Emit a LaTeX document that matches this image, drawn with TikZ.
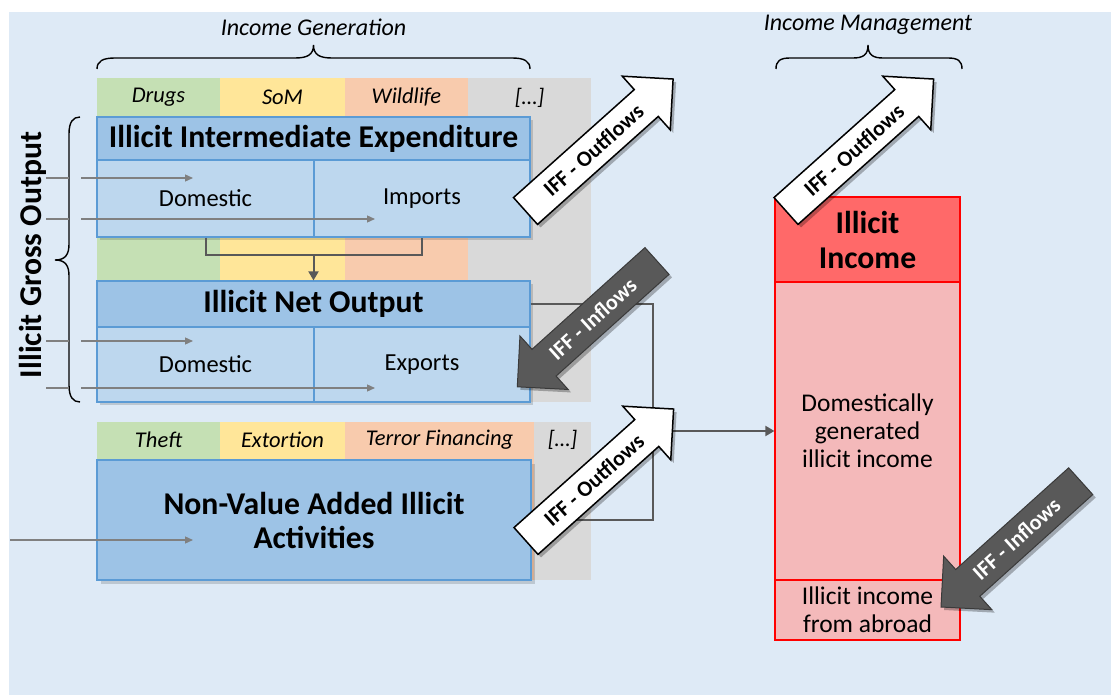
\documentclass[tikz,border=0pt]{standalone}
\usepackage{fontspec}
\setmainfont{Carlito}
\usetikzlibrary{arrows.meta}
\definecolor{bgc}{HTML}{DEEAF6}
\definecolor{hdrc}{HTML}{9DC3E6}
\definecolor{bodyc}{HTML}{BDD7EE}
\definecolor{bordc}{HTML}{5B9BD5}
\definecolor{cgreen}{HTML}{C5E0B4}
\definecolor{cyellow}{HTML}{FFE699}
\definecolor{corange}{HTML}{F8CBAD}
\definecolor{cgrey}{HTML}{D9D9D9}
\definecolor{redh}{HTML}{FF6969}
\definecolor{redb}{HTML}{F4B9BA}
\definecolor{connc}{HTML}{595959}
\definecolor{thinc}{HTML}{808080}
\definecolor{darkarr}{HTML}{595959}
\definecolor{darkbord}{HTML}{3A3A3A}
\newcommand\iffarrow[8]{%
  \begin{scope}[shift={(#2,#3)}, xshift=3pt, yshift=-3pt, rotate=#4]
    \fill[black, opacity=.28] (0,-18) -- (#5-36,-18) -- (#5-36,-36) -- (#5,0) -- (#5-36,36) -- (#5-36,18) -- (0,18) -- cycle;
  \end{scope}
  \begin{scope}[shift={(#2,#3)}, rotate=#4]
    \draw[#6] (0,-18) -- (#5-36,-18) -- (#5-36,-36) -- (#5,0) -- (#5-36,36) -- (#5-36,18) -- (0,18) -- cycle;
    \node[ifftext, #7] (#1) at ({0.46*#5},0) {#8};
  \end{scope}}
\begin{document}
\begin{tikzpicture}[x=1pt,y=-1pt,
  hdrbox/.style={draw=bordc, fill=hdrc, line width=1.2pt, inner sep=0pt, font=\fontsize{31.7}{34}\selectfont\bfseries},
  bodybox/.style={draw=bordc, fill=bodyc, line width=1.2pt, inner sep=0pt, font=\fontsize{24.5}{28}\selectfont},
  cat/.style={font=\fontsize{22.5}{26}\selectfont\itshape},
  titlelab/.style={font=\fontsize{24}{28}\selectfont\itshape},
  incbox/.style={draw=red, line width=1.2pt, inner sep=0pt, align=center},
  brace/.style={draw=black, line width=1.4pt},
  thinarrow/.style={draw=thinc, line width=1.3pt, -{Triangle[length=8pt,width=7pt]}},
  thinline/.style={draw=thinc, line width=1.3pt},
  conn/.style={draw=connc, line width=2pt},
  connarrow/.style={draw=connc, line width=2pt, -{Triangle[length=9pt,width=10pt]}},
  ifftext/.style={font=\fontsize{22}{24}\selectfont\bfseries, inner sep=0pt},
  whitearr/.style={fill=white, draw=black, line width=1.5pt},
  darkarrow/.style={fill=darkarr, draw=darkbord, line width=1pt},
  whitetxt/.style={text=black, rotate=41.8},
  darktxt/.style={text=white, rotate=42},
  shadowc/.style={fill=black, opacity=.15}
]
\useasboundingbox (0,0) rectangle (1111,695);
\fill[bgc] (9,12) rectangle (1111,695);

% category columns
\fill[cgreen] (97,78) rectangle (220,402);
\fill[cyellow] (220,78) rectangle (345,402);
\fill[corange] (345,78) rectangle (468,402);
\fill[cgrey] (468,78) rectangle (591,402);
\fill[cgreen] (97,422) rectangle (220,580);
\fill[cyellow] (220,422) rectangle (345,580);
\fill[corange] (345,422) rectangle (534,580);
\fill[cgrey] (534,422) rectangle (591,580);

\node[cat] (drugs) at (158.5,97.5) {Drugs};
\node[cat] (som) at (282.5,97.5) {SoM};
\node[cat] (wild) at (406.5,97.5) {Wildlife};
\node[cat] (etc1) at (529.5,97.5) {[…]};
\node[cat] (theft) at (158.5,440) {Theft};
\node[cat] (extort) at (282.5,440) {Extortion};
\node[cat] (terror) at (439.5,440) {Terror Financing};
\node[cat] (etc2) at (562.5,440) {[…]};

% box shadows
\fill[shadowc] (100,120) rectangle (533,240);
\fill[shadowc] (100,284) rectangle (533,405);
\fill[shadowc] (101,464) rectangle (535,584);

% Illicit Intermediate Expenditure
\node[hdrbox, minimum width=433, minimum height=43] (iieh) at (313.5,138.5) {Illicit Intermediate Expenditure};
\node[bodybox, minimum width=217, minimum height=77] (iied) at (205.5,198.5) {Domestic};
\node[bodybox, minimum width=216, minimum height=77] (iiei) at (422,198.5) {Imports};

% Illicit Net Output
\node[hdrbox, minimum width=433, minimum height=46] (noh) at (313.5,304) {Illicit Net Output};
\node[bodybox, minimum width=217, minimum height=75] (nod) at (205.5,364.5) {Domestic};
\node[bodybox, minimum width=216, minimum height=75] (noe) at (422,364.5) {Exports};

% Non-value added
\node[hdrbox, minimum width=434, minimum height=120, align=center] (nva) at (314,520) {Non-Value Added Illicit\\Activities};

% titles and braces
\node[titlelab] (igen) at (313.5,27) {Income Generation};
\node[titlelab] (iman) at (868,25) {Income Management};
\draw[brace] (97,69) .. controls (97,61) and (103,58) .. (115,58) -- (295,58) .. controls (307,58) and (313.5,55) .. (313.5,45) .. controls (313.5,55) and (320,58) .. (332,58) -- (512,58) .. controls (524,58) and (530,61) .. (530,69);
\draw[brace] (776,69) .. controls (776,61) and (780,58) .. (790,58) -- (853,58) .. controls (863,58) and (868,55) .. (868,45) .. controls (868,55) and (873,58) .. (883,58) -- (948,58) .. controls (958,58) and (962,61) .. (962,69);
\draw[brace] (80,117) .. controls (73,117) and (69,122) .. (69,134) -- (69,244) .. controls (69,255) and (65,260) .. (55,260) .. controls (65,260) and (69,265) .. (69,276) -- (69,385) .. controls (69,397) and (73,402) .. (80,402);
\node[rotate=90, anchor=base, font=\fontsize{31.7}{34}\selectfont\bfseries, inner sep=0pt] (igo) at (41,255) {Illicit Gross Output};

% thin input arrows
\coordinate (a1s) at (46,178); \coordinate (a1b) at (69,178); \coordinate (a1c) at (81,178); \coordinate (a1e) at (193,178);
\coordinate (a2s) at (46,219); \coordinate (a2b) at (69,219); \coordinate (a2c) at (81,219); \coordinate (a2e) at (375,219);
\coordinate (a3s) at (46,341); \coordinate (a3b) at (69,341); \coordinate (a3c) at (81,341); \coordinate (a3e) at (193,341);
\coordinate (a4s) at (46,388); \coordinate (a4b) at (69,388); \coordinate (a4c) at (81,388); \coordinate (a4e) at (375,388);
\coordinate (a5s) at (10,540); \coordinate (a5e) at (193,540);
\draw[thinline] (a1s) -- (a1b); \draw[thinarrow] (a1c) -- (a1e);
\draw[thinline] (a2s) -- (a2b); \draw[thinarrow] (a2c) -- (a2e);
\draw[thinline] (a3s) -- (a3b); \draw[thinarrow] (a3c) -- (a3e);
\draw[thinline] (a4s) -- (a4b); \draw[thinarrow] (a4c) -- (a4e);
\draw[thinarrow] (a5s) -- (a5e);

% connectors
\coordinate (jm) at (313.5,255);
\draw[conn] (iied.south) -- (205.5,255) -| (iiei.south);
\draw[connarrow] (jm) -- (noh.north);

% Illicit income box
\node[incbox, fill=redh, minimum width=185, minimum height=85, font=\fontsize{31.7}{35}\selectfont\bfseries] (inch) at (867.5,239.5) {Illicit\\Income};
\node[incbox, fill=redb, minimum width=185, minimum height=298, font=\fontsize{25.5}{28}\selectfont] (incm) at (867.5,431) {Domestically\\generated\\illicit income};
\node[incbox, fill=redb, minimum width=185, minimum height=60, font=\fontsize{25.5}{28}\selectfont] (incb) at (867.5,610) {Illicit income\\from abroad};

\coordinate (jn) at (653,431);
\draw[conn] (noh.east) -| (jn) |- (nva.east);
\draw[connarrow] (jn) -- (incm.west);

% IFF block arrows
\iffarrow{out1}{525.5}{211}{41.8}{198}{whitearr}{whitetxt}{IFF - Outflows}
\iffarrow{out2}{786}{211}{41.8}{198}{whitearr}{whitetxt}{IFF - Outflows}
\iffarrow{out3}{526}{541}{41.8}{198}{whitearr}{whitetxt}{IFF - Outflows}
\iffarrow{in1}{657}{261}{222}{188}{darkarrow}{darktxt}{IFF - Inflows}
\iffarrow{in2}{1080.7}{481.2}{222}{188}{darkarrow}{darktxt}{IFF - Inflows}
\end{tikzpicture}
\end{document}
